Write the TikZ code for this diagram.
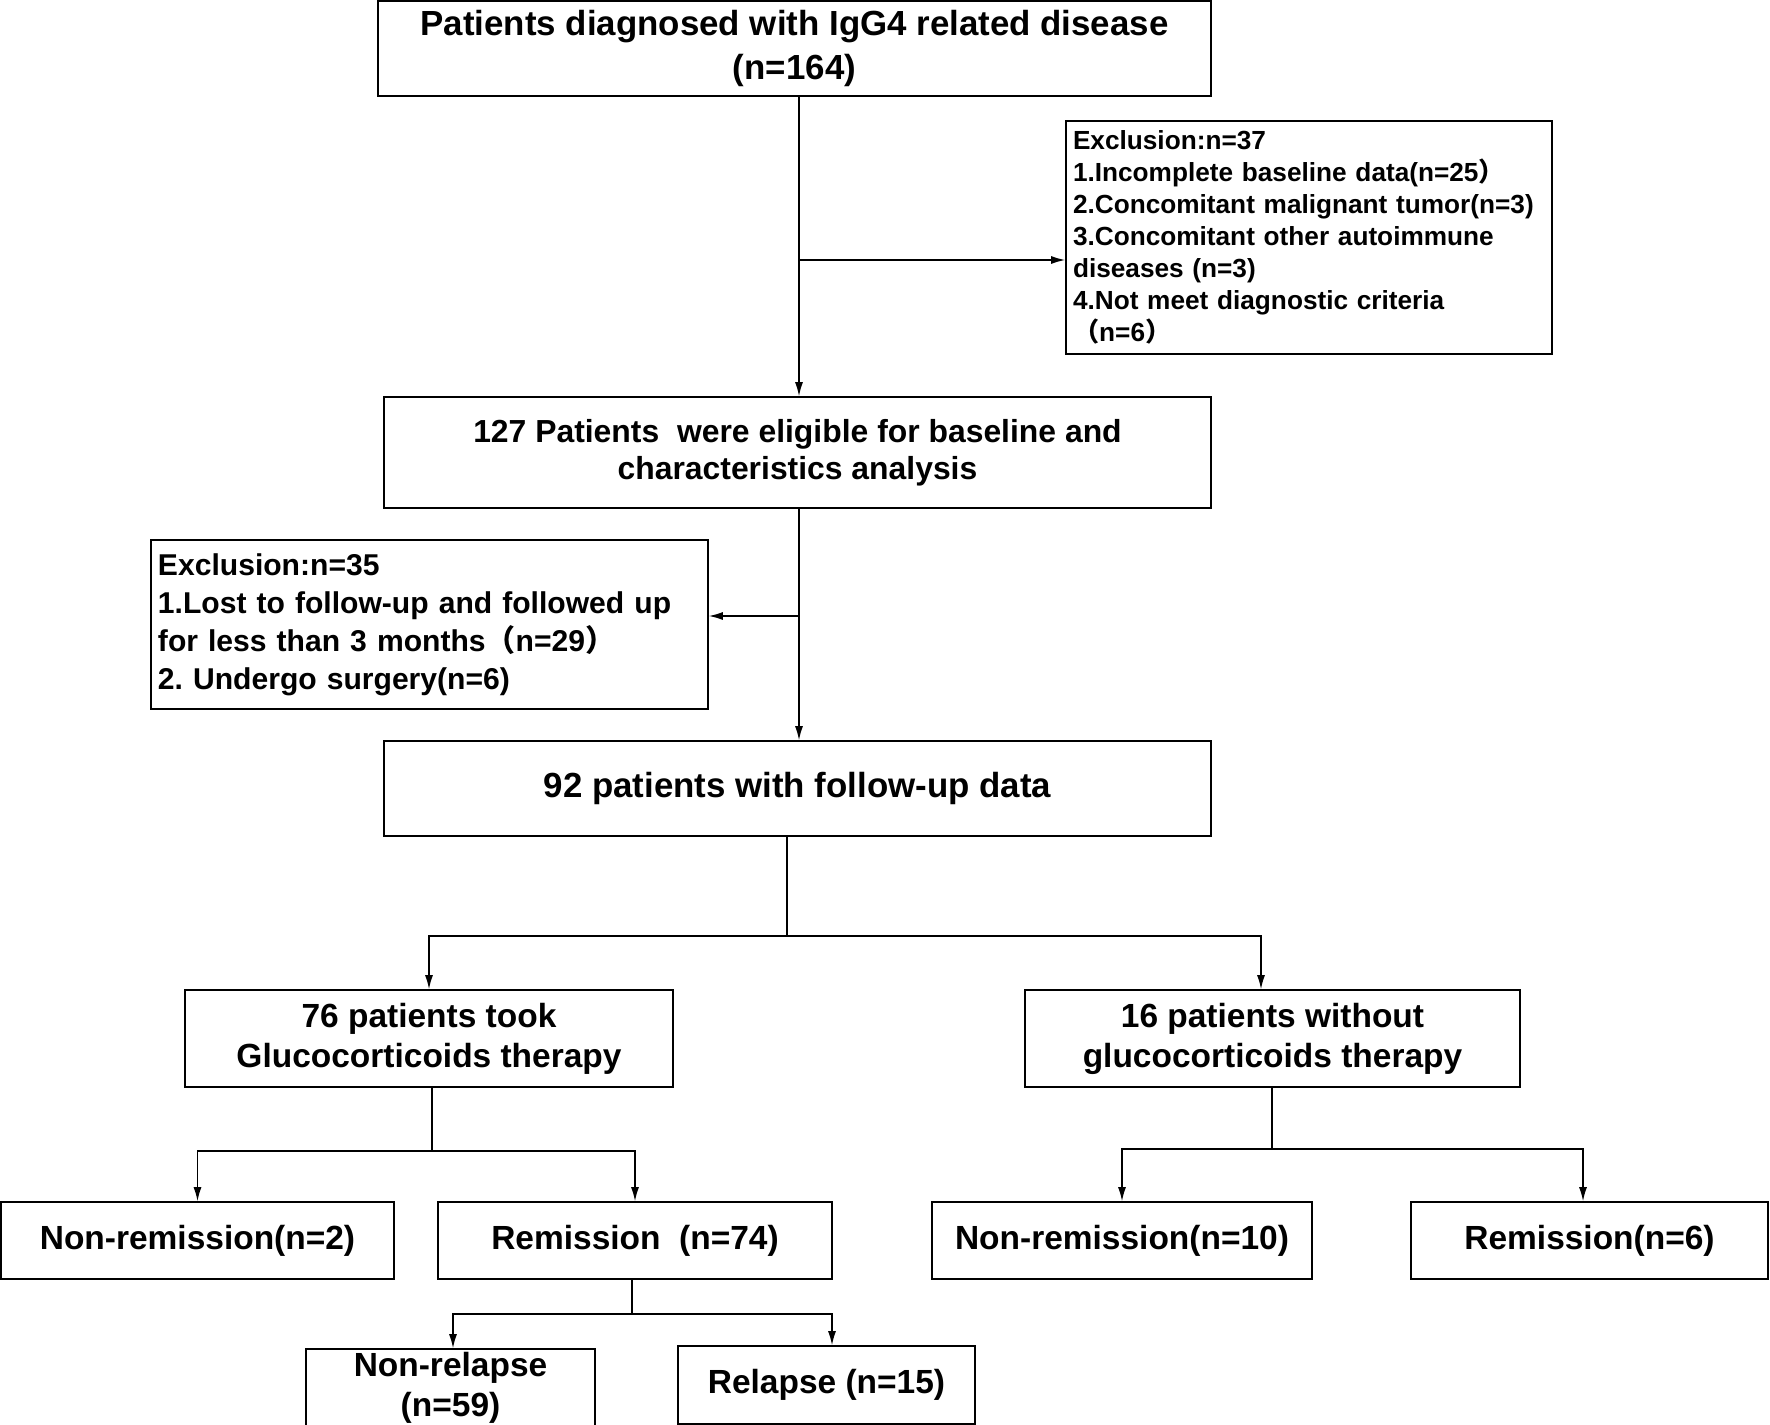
\documentclass[tikz,border=0pt]{standalone}
\usepackage{fontspec}
\setmainfont{Liberation Sans}
\newfontfamily\cjk{Noto Sans CJK SC}
\usetikzlibrary{arrows.meta,calc}
\newcommand{\flp}{{\cjk （}}
\newcommand{\frp}{{\cjk ）}}
\frenchspacing
\begin{document}
\begin{tikzpicture}[x=1bp,y=-1bp,
 box/.style={draw,line width=1.6bp,inner sep=0pt,align=center,font=\bfseries\fontsize{33.6}{40}\selectfont},
 exbox/.style={draw,line width=1.6bp,inner xsep=7bp,inner ysep=0pt,align=left},
 link/.style={line width=1.4bp},
 arr/.style={link,-{Latex[length=14bp,width=8bp]}}]
\useasboundingbox[fill=white] (0,0) rectangle (1770,1425);

\node[box,minimum width=833bp,minimum height=95bp,font=\bfseries\fontsize{35}{45}\selectfont] (b1) at (794.5,48.5) {Patients diagnosed with IgG4 related disease\\(n=164)};
\node[exbox,minimum width=486bp,minimum height=233bp,text width=472bp,font=\bfseries\fontsize{26.3}{32}\selectfont] (e1) at (1309,237.5) {Exclusion:n=37\\1.Incomplete baseline data(n=25\frp\\2.Concomitant malignant tumor(n=3)\\3.Concomitant other autoimmune\\diseases (n=3)\\4.Not meet diagnostic criteria\\\flp n=6\frp};
\node[box,minimum width=827bp,minimum height=111bp,font=\bfseries\fontsize{32}{37}\selectfont] (b2) at (797.5,452.5) {127 Patients\ \ were eligible for baseline and\\characteristics analysis};
\node[exbox,minimum width=557bp,minimum height=169bp,text width=543bp,font=\bfseries\fontsize{30.2}{38}\selectfont] (e2) at (429.5,624.5) {Exclusion:n=35\\1.Lost to follow-up and followed up\\for less than 3 months\flp n=29\frp\\2. Undergo surgery(n=6)};
\node[box,minimum width=827bp,minimum height=95bp,font=\bfseries\fontsize{35}{40}\selectfont] (b3) at (797.5,788.5) {92 patients with follow-up data};
\node[box,minimum width=488bp,minimum height=97bp] (b4) at (429,1038.5) {76 patients took\\Glucocorticoids therapy};
\node[box,minimum width=495bp,minimum height=97bp] (b5) at (1272.5,1038.5) {16 patients without\\glucocorticoids therapy};
\node[box,minimum width=393bp,minimum height=77bp] (r1) at (197.5,1240.5) {Non-remission(n=2)};
\node[box,minimum width=394bp,minimum height=77bp] (r2) at (635,1240.5) {Remission\ \ (n=74)};
\node[box,minimum width=380bp,minimum height=77bp] (r3) at (1122,1240.5) {Non-remission(n=10)};
\node[box,minimum width=357bp,minimum height=77bp] (r4) at (1589.5,1240.5) {Remission(n=6)};
\node[box,minimum width=289bp,minimum height=78bp] (n1) at (450.5,1388) {Non-relapse\\(n=59)};
\node[box,minimum width=297bp,minimum height=78bp] (n2) at (826.5,1385) {Relapse (n=15)};

\coordinate (t1) at (799,260);
\coordinate (t2) at (799,616);
\coordinate (s1) at (787,936);
\coordinate (s2) at (432,1151);
\coordinate (s3) at (1272,1149);
\coordinate (s4) at (632,1314);
\coordinate (a5) at (1261,0);
\coordinate (a4) at (1583,0);
\coordinate (a6) at (453,0);
\coordinate (a7) at (832,0);

\draw[arr] (b1.south -| t1) -- (b2.north -| t1);
\draw[arr] (t1) -- (t1 -| e1.west);
\draw[arr] (b2.south -| t2) -- (b3.north -| t2);
\draw[arr] (t2) -- (t2 -| e2.east);
\draw[link] (b3.south -| s1) -- (s1);
\draw[arr] (s1) -| (b4.north);
\draw[arr] (s1) -| (b5.north -| a5);
\draw[link] (b4.south -| s2) -- (s2);
\draw[arr] (s2) -| (r1.north);
\draw[arr] (s2) -| (r2.north);
\draw[link] (b5.south -| s3) -- (s3);
\draw[arr] (s3) -| (r3.north);
\draw[arr] (s3) -| (r4.north -| a4);
\draw[link] (r2.south -| s4) -- (s4);
\draw[arr] (s4) -| (n1.north -| a6);
\draw[arr] (s4) -| (n2.north -| a7);
\end{tikzpicture}
\end{document}
